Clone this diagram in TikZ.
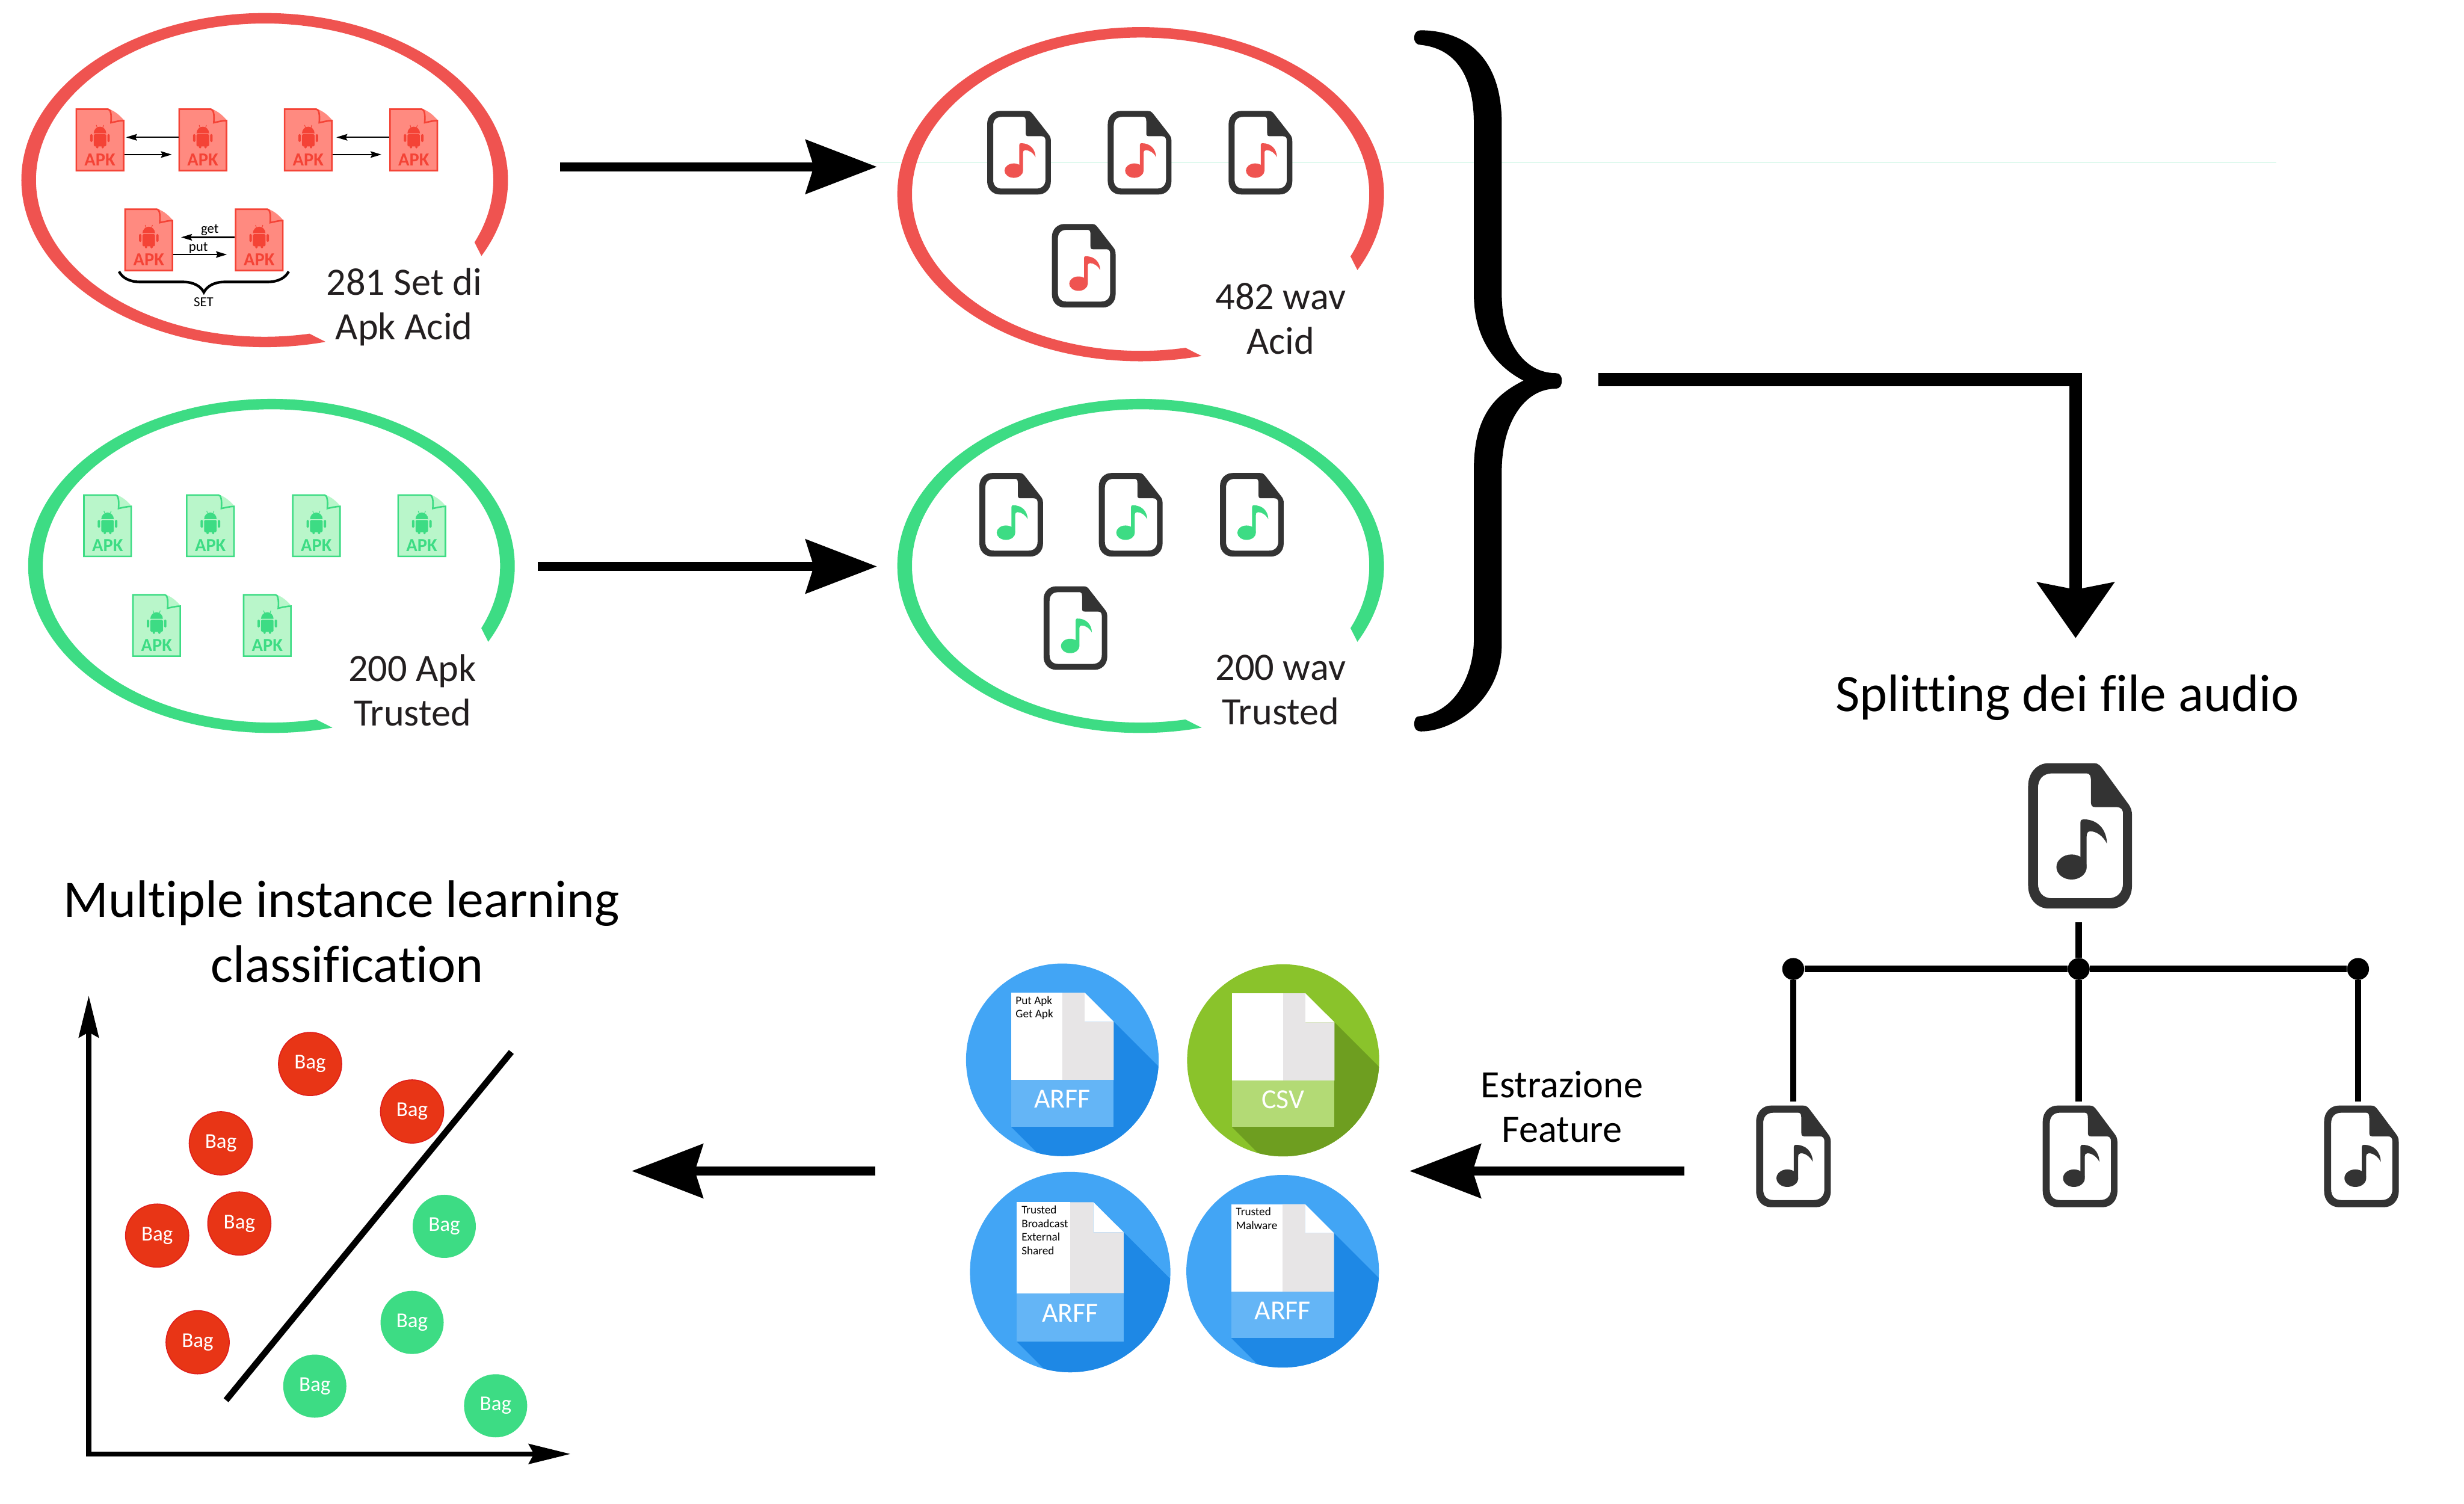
\documentclass[tikz,border=0pt]{standalone}
\usepackage{fontspec}
\setmainfont{Carlito}[Ligatures=NoCommon]
\usepackage{xcolor}
\usetikzlibrary{arrows.meta, positioning, decorations.pathreplacing}

\definecolor{ringred}{HTML}{EF5350}
\definecolor{ringgreen}{HTML}{3DDC84}
\definecolor{apklightred}{HTML}{FF8A80}
\definecolor{apkdarkred}{HTML}{F44336}
\definecolor{apklightgreen}{HTML}{B9F6CA}
\definecolor{filedark}{HTML}{333333}
\definecolor{textdark}{HTML}{231F20}
\definecolor{bagred}{HTML}{E83516}
\definecolor{bagborder}{HTML}{E0201C}
\definecolor{arffmain}{HTML}{42A5F5}
\definecolor{arffshadow}{HTML}{1E88E5}
\definecolor{arffband}{HTML}{64B5F6}
\definecolor{csvmain}{HTML}{8AC32B}
\definecolor{csvshadow}{HTML}{6E9E20}
\definecolor{csvband}{HTML}{B3DA75}
\definecolor{docgray}{HTML}{E7E5E6}
\definecolor{faintline}{HTML}{CBF5E3}

\begin{document}
\begin{tikzpicture}[
        bigarr/.style={-{Stealth[length=1.36cm, width=1.02cm, inset=0.15cm]}, line width=0.176cm},
        cornerarr/.style={-{Stealth[length=1.06cm, width=1.45cm, inset=0.13cm]}, line width=0.25cm},
        axisarr/.style={{Stealth[length=0.8cm, width=0.38cm, inset=0.1cm]}-{Stealth[length=0.8cm, width=0.38cm, inset=0.1cm]}, line width=0.1cm},
        smallarr/.style={-{Stealth[length=0.21cm, width=0.125cm, inset=0.03cm]}, line width=0.025cm},
        treeline/.style={line width=0.12cm},
        treedot/.style={circle, fill=black, minimum size=0.42cm, inner sep=0pt},
        caption/.style={align=center, text=textdark, inner sep=0pt, font=\fontsize{21.1}{24.2}\selectfont},
        heading/.style={align=center, text=black, inner sep=0pt, font=\fontsize{28.7}{34}\selectfont},
        bag/.style={circle, minimum size=1.21cm, inner sep=0pt, text=white, font=\fontsize{11.5}{12}\selectfont},
        redbag/.style={bag, fill=bagred, draw=bagborder, line width=0.02cm},
        greenbag/.style={bag, fill=ringgreen},
        pics/ring/.style={code={
            \fill[#1] (-27:4.66 and 3.20) arc[start angle=-27, end angle=284.5, x radius=4.66, y radius=3.20]
                -- (281.3:4.38 and 3.00) arc[start angle=281.3, end angle=-23.4, x radius=4.38, y radius=3.00] -- cycle;
        }},
        pics/apkfile/.style 2 args={code={
            \fill[#1] (0.155,0.6) .. controls (0.3,0.55) and (0.4,0.45) .. (0.465,0.37) -- (0.2,0.3) -- cycle;
            \filldraw[fill=#1, draw=#2, line width=0.03cm] (-0.453,0.588) -- (0.155,0.588)
                .. controls (0.2,0.588) and (0.225,0.5) .. (0.21,0.33)
                .. controls (0.3,0.35) and (0.38,0.37) .. (0.453,0.37)
                -- (0.453,-0.588) -- (-0.453,-0.588) -- cycle;
            % Android
            \fill[#2] (-0.12,0.127) arc[start angle=180, end angle=0, x radius=0.12, y radius=0.126] -- cycle;
            \fill[#2, rounded corners=0.02cm] (-0.12,0.11) rectangle (0.12,-0.123);
            \fill[#2, rounded corners=0.02cm] (-0.188,0.113) rectangle (-0.142,-0.04);
            \fill[#2, rounded corners=0.02cm] (0.142,0.113) rectangle (0.188,-0.04);
            \fill[#2, rounded corners=0.02cm] (-0.075,0) rectangle (-0.03,-0.163);
            \fill[#2, rounded corners=0.02cm] (0.03,0) rectangle (0.075,-0.163);
            \draw[#2, line width=0.012cm] (-0.055,0.24) -- (-0.07,0.285);
            \draw[#2, line width=0.012cm] (0.055,0.24) -- (0.07,0.285);
            \node[text=#2, inner sep=0pt, font=\fontsize{10}{10}\selectfont\bfseries] (-txt) at (0,-0.38) {APK};
            \coordinate (-lu) at (-0.468,0.05);
            \coordinate (-ll) at (-0.468,-0.28);
            \coordinate (-ru) at (0.468,0.05);
            \coordinate (-rl) at (0.468,-0.28);
        }},
        pics/wavfile/.style={code={
            \fill[white] (-0.55,0.75) rectangle (0.55,-0.75);
            \fill[filedark, even odd rule] (-0.37,0.80) -- (0.16,0.80)
                .. controls (0.22,0.80) and (0.24,0.77) .. (0.28,0.72) -- (0.56,0.36)
                .. controls (0.60,0.31) and (0.61,0.28) .. (0.61,0.22) -- (0.61,-0.55)
                .. controls (0.61,-0.70) and (0.50,-0.80) .. (0.37,-0.80) -- (-0.37,-0.80)
                .. controls (-0.50,-0.80) and (-0.61,-0.70) .. (-0.61,-0.55) -- (-0.61,0.55)
                .. controls (-0.61,0.70) and (-0.50,0.80) .. (-0.37,0.80) -- cycle
                (-0.33,0.687) -- (0.08,0.687)
                .. controls (0.12,0.687) and (0.128,0.65) .. (0.128,0.60) -- (0.128,0.38)
                .. controls (0.128,0.33) and (0.14,0.316) .. (0.18,0.316) -- (0.43,0.316)
                .. controls (0.48,0.316) and (0.505,0.29) .. (0.505,0.24) -- (0.505,-0.52)
                .. controls (0.505,-0.62) and (0.44,-0.687) .. (0.33,-0.687) -- (-0.33,-0.687)
                .. controls (-0.44,-0.687) and (-0.495,-0.62) .. (-0.495,-0.52) -- (-0.495,0.52)
                .. controls (-0.495,0.62) and (-0.44,0.687) .. (-0.33,0.687) -- cycle;
            % Note
            \fill[#1] (0.005,-0.33) -- (0.005,0.15) .. controls (0.005,0.175) and (0.02,0.182) .. (0.04,0.182)
                .. controls (0.2,0.182) and (0.31,0.08) .. (0.316,-0.086)
                .. controls (0.27,0) and (0.19,0.05) .. (0.12,0.05)
                .. controls (0.09,0.05) and (0.077,0.03) .. (0.077,-0.01) -- (0.077,-0.33) -- cycle;
            \fill[#1] (-0.10,-0.343) ellipse[x radius=0.178, y radius=0.138];
        }},
        pics/docicon/.style n args={5}{code={
            \fill[#1] (0,0) circle (1);
            \begin{scope}
                \clip (0,0) circle (1);
                \fill[#2] (0.534,0.396) -- (1.6,-0.67) -- (1.6,-2.03) -- (0.8,-2.03) -- (-0.533,-0.694) -- cycle;
            \end{scope}
            \fill[white] (-0.533,-0.211) rectangle (0,0.697);
            \fill[docgray] (0,0.697) -- (0.232,0.697) -- (0.232,0.396) -- (0.534,0.396) -- (0.534,-0.211) -- (0,-0.211) -- cycle;
            \fill[white] (0.232,0.697) -- (0.534,0.396) -- (0.232,0.396) -- cycle;
            \fill[#3] (-0.533,-0.211) rectangle (0.534,-0.694);
            \node[text=white, inner sep=0pt, font=\fontsize{15}{15}\selectfont] (-name) at (0,-0.41) {#4};
            \node[anchor=north west, align=left, inner sep=0pt, text=black, font=\fontsize{6.3}{7.4}\selectfont] (-list) at (-0.488,0.665) {#5};
        }},
    ]
        \useasboundingbox (0,0) rectangle (47.2,-28.8);

        % Faint guide
        \coordinate (guidea) at (16.6,-3.12);
        \coordinate (guideb) at (43.6,-3.12);
        \draw[faintline, line width=0.012cm] (guidea) -- (guideb);

        % APK Acid
        \pic (ringapkacid) at (5.07,-3.45) {ring=ringred};
        \pic (acida) at (1.915,-2.68) {apkfile={apklightred}{apkdarkred}};
        \pic (acidb) at (3.885,-2.68) {apkfile={apklightred}{apkdarkred}};
        \pic (acidc) at (5.905,-2.68) {apkfile={apklightred}{apkdarkred}};
        \pic (acidd) at (7.925,-2.68) {apkfile={apklightred}{apkdarkred}};
        \pic (acide) at (2.85,-4.595) {apkfile={apklightred}{apkdarkred}};
        \pic (acidf) at (4.965,-4.595) {apkfile={apklightred}{apkdarkred}};
        \draw[smallarr, shorten >=0.03cm] (acidb-lu) -- (acida-ru);
        \draw[smallarr, shorten >=0.125cm] (acida-rl) -- (acidb-ll);
        \draw[smallarr, shorten >=0.07cm] (acidd-lu) -- (acidc-ru);
        \draw[smallarr, shorten >=0.15cm] (acidc-rl) -- (acidd-ll);
        \draw[smallarr, shorten >=0.15cm] (acidf-lu) -- (acide-ru);
        \draw[smallarr, shorten >=0.15cm] (acide-rl) -- (acidf-ll);
        \node[inner sep=0pt, font=\fontsize{7.5}{8}\selectfont] (getlabel) at (4.02,-4.41) {get};
        \node[inner sep=0pt, font=\fontsize{7.5}{8}\selectfont] (putlabel) at (3.80,-4.75) {put};
        \coordinate (setbracea) at (2.28,-5.20);
        \coordinate (setbraceb) at (5.53,-5.20);
        \draw[line width=0.05cm, decorate, decoration={brace, mirror, amplitude=0.4cm}] (setbracea) -- (setbraceb);
        \node[inner sep=0pt, font=\fontsize{7.5}{8}\selectfont] (setlabel) at (3.90,-5.79) {SET};
        \node[caption] (apkacidtext) at (7.74,-5.88) {281 Set di\\Apk Acid};

        % APK Trusted
        \pic (ringapktrusted) at (5.20,-10.84) {ring=ringgreen};
        \pic (trusta) at (2.06,-10.07) {apkfile={apklightgreen}{ringgreen}};
        \pic (trustb) at (4.03,-10.07) {apkfile={apklightgreen}{ringgreen}};
        \pic (trustc) at (6.06,-10.07) {apkfile={apklightgreen}{ringgreen}};
        \pic (trustd) at (8.08,-10.07) {apkfile={apklightgreen}{ringgreen}};
        \pic (truste) at (3.00,-11.98) {apkfile={apklightgreen}{ringgreen}};
        \pic (trustf) at (5.12,-11.98) {apkfile={apklightgreen}{ringgreen}};
        \node[caption] (apktrustedtext) at (7.90,-13.22) {200 Apk\\Trusted};

        % WAV Acid
        \pic (ringwavacid) at (21.85,-3.72) {ring=ringred};
        \pic at (19.52,-2.925) {wavfile=ringred};
        \pic at (21.83,-2.925) {wavfile=ringred};
        \pic at (24.145,-2.925) {wavfile=ringred};
        \pic at (20.76,-5.09) {wavfile=ringred};
        \node[caption] (wavacidtext) at (24.53,-6.10) {482 wav\\Acid};

        % WAV Trusted
        \pic (ringwavtrusted) at (21.85,-10.84) {ring=ringgreen};
        \pic at (19.37,-9.86) {wavfile=ringgreen};
        \pic at (21.66,-9.86) {wavfile=ringgreen};
        \pic at (23.98,-9.86) {wavfile=ringgreen};
        \pic at (20.60,-12.03) {wavfile=ringgreen};
        \node[caption] (wavtrustedtext) at (24.53,-13.22) {200 wav\\Trusted};

        % Arrows to WAV
        \coordinate (apkacidout) at (10.73,-3.195);
        \coordinate (wavacidin) at (16.80,-3.195);
        \coordinate (apktrustedout) at (10.30,-10.85);
        \coordinate (wavtrustedin) at (16.80,-10.85);
        \draw[bigarr] (apkacidout) -- (wavacidin);
        \draw[bigarr] (apktrustedout) -- (wavtrustedin);

        % Large brace
        \fill[black] (27.09,-0.725) .. controls (27.09,-0.62) and (27.15,-0.58) .. (27.217,-0.58)
            .. controls (27.8,-0.58) and (28.77,-0.85) .. (28.767,-2.37) -- (28.767,-5.635)
            .. controls (28.767,-6.55) and (29.2,-7.147) .. (29.8,-7.147)
            .. controls (29.88,-7.147) and (29.917,-7.2) .. (29.917,-7.29)
            .. controls (29.917,-7.38) and (29.88,-7.446) .. (29.8,-7.446)
            .. controls (29.2,-7.446) and (28.767,-8.1) .. (28.767,-9.03) -- (28.767,-12.337)
            .. controls (28.767,-13.42) and (27.83,-14.01) .. (27.217,-14.01)
            .. controls (27.14,-14.01) and (27.09,-13.96) .. (27.09,-13.88)
            .. controls (27.09,-13.78) and (27.12,-13.72) .. (27.18,-13.72)
            .. controls (27.9,-13.65) and (28.233,-12.88) .. (28.233,-12.247) -- (28.233,-8.986)
            .. controls (28.233,-7.9) and (28.7,-7.537) .. (29.183,-7.29)
            .. controls (28.7,-7.04) and (28.233,-6.54) .. (28.233,-5.635) -- (28.233,-2.37)
            .. controls (28.233,-1.38) and (27.83,-0.925) .. (27.217,-0.86)
            .. controls (27.14,-0.86) and (27.09,-0.81) .. (27.09,-0.725) -- cycle;

        % Corner arrow
        \coordinate (braceout) at (30.62,-7.27);
        \coordinate (splitin) at (39.76,-12.224);
        \draw[cornerarr] (braceout) -| (splitin);
        \node[heading] (splittext) at (39.60,-13.36) {Splitting dei file audio};

        % Splitting tree
        \pic[xscale=1.63, yscale=1.74] at (39.845,-16.01) {wavfile=filedark};
        \coordinate (wavbottom) at (39.82,-17.67);
        \node[treedot] (dotleft) at (34.35,-18.56) {};
        \node[treedot] (dotmid) at (39.82,-18.56) {};
        \node[treedot] (dotright) at (45.17,-18.56) {};
        \coordinate (partleft) at (34.35,-21.10);
        \coordinate (partmid) at (39.82,-21.10);
        \coordinate (partright) at (45.17,-21.10);
        \draw[treeline] (wavbottom) -- (dotmid);
        \draw[treeline] (dotleft) -- (dotmid);
        \draw[treeline] (dotmid) -- (dotright);
        \draw[treeline] (dotleft) -- (partleft);
        \draw[treeline] (dotmid) -- (partmid);
        \draw[treeline] (dotright) -- (partright);
        \pic[xscale=1.172, yscale=1.217] at (34.355,-22.15) {wavfile=filedark};
        \pic[xscale=1.172, yscale=1.217] at (39.845,-22.15) {wavfile=filedark};
        \pic[xscale=1.172, yscale=1.217] at (45.235,-22.15) {wavfile=filedark};

        % Feature arrow
        \coordinate (featureout) at (32.27,-22.43);
        \coordinate (featurein) at (27.00,-22.43);
        \draw[bigarr] (featureout) -- (featurein);
        \node[caption, text=black] (featuretext) at (29.92,-21.20) {Estrazione\\Feature};

        % Feature files
        \pic[scale=1.845] (arffa) at (20.35,-20.30) {docicon={arffmain}{arffshadow}{arffband}{ARFF}{Put Apk\\Get Apk}};
        \pic[scale=1.84] (csvfile) at (24.58,-20.31) {docicon={csvmain}{csvshadow}{csvband}{CSV}{}};
        \pic[scale=1.92] (arffb) at (20.50,-24.365) {docicon={arffmain}{arffshadow}{arffband}{ARFF}{Trusted\\Broadcast\\External\\Shared}};
        \pic[scale=1.845] (arffc) at (24.57,-24.35) {docicon={arffmain}{arffshadow}{arffband}{ARFF}{Trusted\\Malware}};

        % Classification arrow
        \coordinate (arffout) at (16.77,-22.43);
        \coordinate (plotin) at (12.10,-22.43);
        \draw[bigarr] (arffout) -- (plotin);

        % Plot
        \node[heading] (mildtext) at (6.545,-17.30) {Multiple instance learning};
        \node[heading] (classtext) at (6.65,-18.47) {classification};
        \coordinate (ytip) at (1.70,-19.07);
        \coordinate (origin) at (1.70,-27.85);
        \coordinate (xtip) at (10.93,-27.85);
        \draw[axisarr] (ytip) -- (origin) -- (xtip);
        \coordinate (splita) at (4.33,-26.82);
        \coordinate (splitb) at (9.795,-20.15);
        \draw[line width=0.12cm] (splita) -- (splitb);

        % Bags
        \node[redbag] (baga) at (5.94,-20.38) {Bag};
        \node[redbag] (bagb) at (7.894,-21.29) {Bag};
        \node[redbag] (bagc) at (4.23,-21.90) {Bag};
        \node[redbag] (bagd) at (4.585,-23.436) {Bag};
        \node[redbag] (bage) at (3.01,-23.667) {Bag};
        \node[redbag] (bagf) at (3.786,-25.71) {Bag};
        \node[greenbag] (bagg) at (8.51,-23.49) {Bag};
        \node[greenbag] (bagh) at (7.894,-25.33) {Bag};
        \node[greenbag] (bagi) at (6.03,-26.55) {Bag};
        \node[greenbag] (bagj) at (9.494,-26.927) {Bag};
    \end{tikzpicture}
\end{document}
